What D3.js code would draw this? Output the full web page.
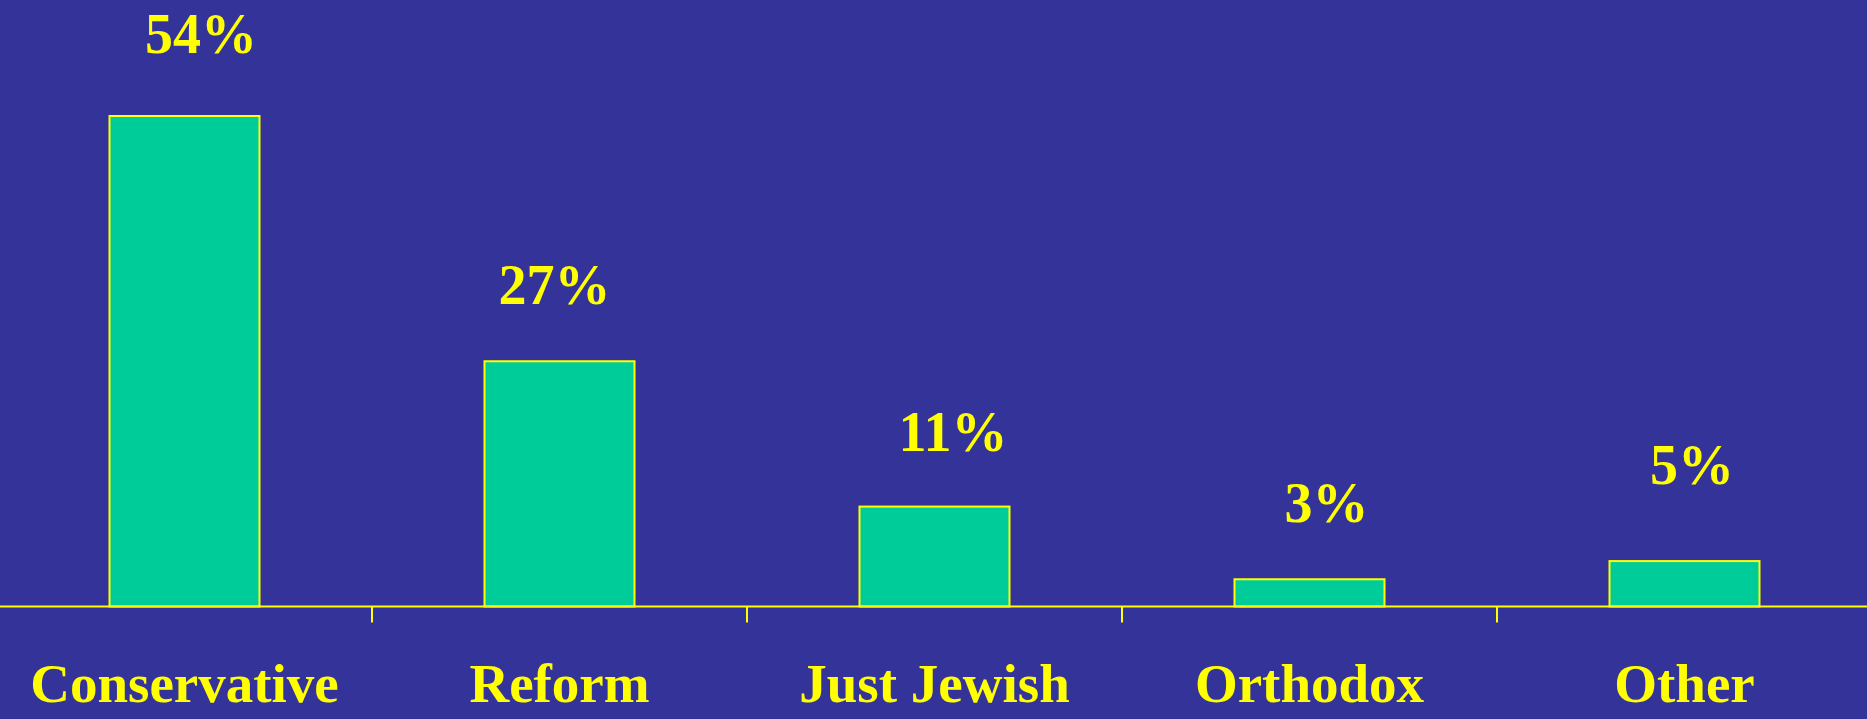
<!DOCTYPE html>
<html>
<head>
<meta charset="utf-8">
<script src="https://cdn.jsdelivr.net/npm/d3@7"></script>
<style>
  html, body { margin: 0; padding: 0; background: #333399; }
  svg { display: block; }
</style>
</head>
<body>
<div id="vis"></div>
<script>
// data
const categories = ["Conservative", "Reform", "Just Jewish", "Orthodox", "Other"];
const percents = [54, 27, 11, 3, 5];
const valueLabels = ["54%", "27%", "11%", "3%", "5%"];

// the value labels were placed by hand in the original, not exactly over the bars
const LABEL_NUDGE = [
    {dx: 16.5, dy: -63},
    {dx: -5, dy: -57},
    {dx: 18.5, dy: -56},
    {dx: 17, dy: -57},
    {dx: 7.5, dy: -77}
];

const FRAME_WIDTH = 1867;
const FRAME_HEIGHT = 719;
const BASELINE = 606.5;
const FONT = "'Liberation Serif', 'Times New Roman', serif";

const FRAME = d3.select("#vis")
    .append("svg")
    .attr("width", FRAME_WIDTH)
    .attr("height", FRAME_HEIGHT);

FRAME.append("rect")
    .attr("width", FRAME_WIDTH)
    .attr("height", FRAME_HEIGHT)
    .attr("fill", "#333399");

// category slots (for ticks and labels)
const X_SLOT = d3.scaleBand()
    .domain(categories)
    .range([-3, 1872])
    .padding(0);

// bars sit in the middle 40% of each slot
const X_BAR = d3.scaleBand()
    .domain(categories)
    .range([-3, 1872])
    .paddingInner(0.6)
    .paddingOuter(0.3);

const Y_SCALE = d3.scaleLinear()
    .domain([0, 60])
    .range([BASELINE, BASELINE - 545]);

const data = categories.map((c, i) => ({
    cat: c, value: percents[i], label: valueLabels[i], nudge: LABEL_NUDGE[i]
}));

// bars
FRAME.selectAll(".bar")
    .data(data)
    .enter()
    .append("rect")
    .attr("class", "bar")
    .attr("x", d => X_BAR(d.cat))
    .attr("y", d => Y_SCALE(d.value))
    .attr("width", X_BAR.bandwidth())
    .attr("height", d => BASELINE - Y_SCALE(d.value))
    .attr("fill", "#00CC99")
    .attr("stroke", "#FFFF00")
    .attr("stroke-width", 2);

// axis line
FRAME.append("line")
    .attr("x1", 0)
    .attr("x2", FRAME_WIDTH)
    .attr("y1", BASELINE)
    .attr("y2", BASELINE)
    .attr("stroke", "#FFFF00")
    .attr("stroke-width", 2);

// ticks between categories
FRAME.selectAll(".tick")
    .data(categories.slice(1))
    .enter()
    .append("line")
    .attr("class", "tick")
    .attr("x1", d => X_SLOT(d))
    .attr("x2", d => X_SLOT(d))
    .attr("y1", BASELINE)
    .attr("y2", BASELINE + 16)
    .attr("stroke", "#FFFF00")
    .attr("stroke-width", 2);

// category labels
FRAME.selectAll(".catlabel")
    .data(categories)
    .enter()
    .append("text")
    .attr("class", "catlabel")
    .attr("x", d => X_SLOT(d) + X_SLOT.bandwidth() / 2)
    .attr("y", 701.5)
    .attr("text-anchor", "middle")
    .attr("font-family", FONT)
    .attr("font-weight", "bold")
    .attr("font-size", 55)
    .attr("fill", "#FFFF00")
    .text(d => d);

// value labels
FRAME.selectAll(".vallabel")
    .data(data)
    .enter()
    .append("text")
    .attr("class", "vallabel")
    .attr("x", d => X_BAR(d.cat) + X_BAR.bandwidth() / 2 + d.nudge.dx)
    .attr("y", d => Y_SCALE(d.value) + d.nudge.dy)
    .attr("text-anchor", "middle")
    .attr("font-family", FONT)
    .attr("font-weight", "bold")
    .attr("font-size", 56)
    .attr("fill", "#FFFF00")
    .text(d => d.label);
</script>
</body>
</html>
